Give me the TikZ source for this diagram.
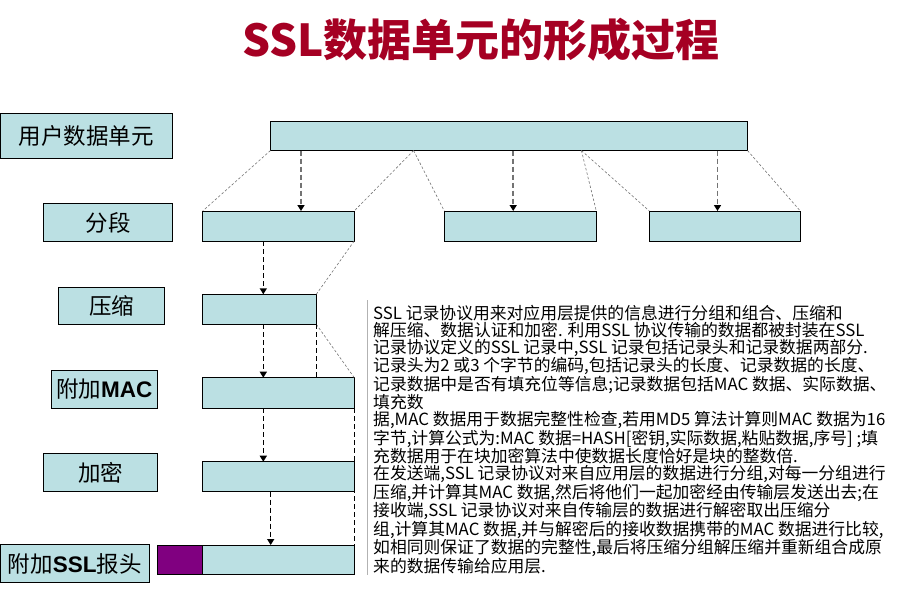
\documentclass[tikz,border=0pt]{standalone}
\usepackage{fontspec}
\setmainfont{Liberation Sans}
\newfontfamily\cjk{Noto Sans CJK SC}
\usetikzlibrary{arrows.meta}
\definecolor{barfill}{RGB}{187,224,227}
\definecolor{hdrfill}{RGB}{128,0,128}
\definecolor{titlered}{RGB}{165,0,35}

\begin{document}
\begin{tikzpicture}[x=1pt, y=-1pt,
    stagebox/.style={draw, fill=barfill, line width=0.9pt, inner sep=0pt, outer sep=0pt,
        anchor=north west, font=\cjk\fontsize{22.5}{26}\selectfont},
    databar/.style={draw, fill=barfill, line width=0.9pt, inner sep=0pt, outer sep=0pt,
        anchor=north west},
    splitline/.style={draw=black!55, line width=0.6pt, dash pattern=on 2.5pt off 2pt},
    grayarrow/.style={draw=black!55, line width=1.8pt, dash pattern=on 5pt off 3pt,
        -{Triangle[length=6pt,width=7pt,color=black]}},
    blackarrow/.style={draw=black, line width=1.4pt, dash pattern=on 5pt off 3pt,
        -{Triangle[length=6pt,width=7pt]}},
    edgeline/.style={draw=black, line width=0.8pt, dash pattern=on 5pt off 3pt}]

    \useasboundingbox (0,0) rectangle (905,597);

    % title
    \node[font=\cjk\bfseries\fontsize{44}{48}\selectfont, text=titlered] (title) at (481,40)
        {SSL数据单元的形成过程};

    % stage names
    \node[stagebox, minimum width=172pt, minimum height=45pt] (userlab) at (0.5,113) {用户数据单元};
    \node[stagebox, minimum width=129pt, minimum height=38pt] (seglab) at (43.5,203.5) {分段};
    \node[stagebox, minimum width=106pt, minimum height=37.5pt] (complab) at (58.5,287) {压缩};
    \node[stagebox, minimum width=106.5pt, minimum height=38pt] (maclab) at (51,370)
        {附加{\rmfamily\bfseries MAC}};
    \node[stagebox, minimum width=114pt, minimum height=38pt] (enclab) at (43.5,453.5) {加密};
    \node[stagebox, minimum width=148.5pt, minimum height=38pt] (hdrlab) at (0.5,544.5)
        {附加{\rmfamily\bfseries SSL}报头};

    % data bars
    \node[databar, minimum width=477pt, minimum height=29.5pt] (user) at (270.5,121) {};
    \node[databar, minimum width=151.5pt, minimum height=30pt] (seg1) at (202.7,211) {};
    \node[databar, minimum width=152pt, minimum height=30pt] (seg2) at (444.3,211) {};
    \node[databar, minimum width=151pt, minimum height=30pt] (seg3) at (649.3,211) {};
    \node[databar, minimum width=114pt, minimum height=30pt] (comp) at (202.3,294.3) {};
    \node[databar, minimum width=152pt, minimum height=30.5pt] (mac) at (202.3,377.7) {};
    \node[databar, minimum width=152pt, minimum height=30pt] (enc) at (202.3,461.7) {};
    \node[databar, minimum width=152pt, minimum height=29.5pt] (rec) at (202.3,545) {};
    \node[databar, fill=hdrfill, minimum width=45pt, minimum height=29.5pt] (hdr) at (157.3,545) {};

    % splitting lines
    \coordinate (cut1) at (413.6,150.5);
    \coordinate (cut2) at (581.4,150.5);
    \draw[splitline] (user.south west) -- (seg1.north west);
    \draw[splitline] (cut1) -- (seg1.north east);
    \draw[splitline] (cut1) -- (seg2.north west);
    \draw[splitline] (cut2) -- (seg2.north east);
    \draw[splitline] (cut2) -- (seg3.north west);
    \draw[splitline] (user.south east) -- (seg3.north east);
    \draw[splitline] (seg1.south east) -- (comp.north east);
    \draw[splitline] (comp.south east) -- (mac.north east);

    % segmenting arrows
    \draw[grayarrow] (user.south -| 301,0) -- (seg1.north -| 301,0);
    \draw[grayarrow] (user.south -| 513.2,0) -- (seg2.north -| 513.2,0);
    \draw[grayarrow] (user.south -| 717.5,0) -- (seg3.north -| 717.5,0);

    % processing arrows
    \draw[blackarrow] (seg1.south -| 263.3,0) -- (comp.north -| 263.3,0);
    \draw[blackarrow] (comp.south -| 263.3,0) -- (mac.north -| 263.3,0);
    \draw[blackarrow] (mac.south -| 263.3,0) -- (enc.north -| 263.3,0);
    \draw[blackarrow] (enc.south -| 270.7,0) -- (rec.north -| 270.7,0);

    % length marks
    \draw[edgeline] (comp.south east) -- (comp.south east |- mac.north);
    \draw[edgeline] (mac.south east) -- (rec.north east);

    % description
    \coordinate (bartop) at (367.7,300);
    \coordinate (barbot) at (367.7,575);
    \draw[black!30, line width=0.8pt] (bartop) -- (barbot);
    \node[anchor=north west, inner sep=0pt, align=left,
        font=\cjk\fontsize{16.8}{17}\selectfont] (desc) at (373,305) {%
        SSL 记录协议用来对应用层提供的信息进行分组和组合、压缩和\\
        解压缩、数据认证和加密. 利用SSL 协议传输的数据都被封装在SSL\\
        记录协议定义的SSL 记录中,SSL 记录包括记录头和记录数据两部分.\\
        记录头为2 或3 个字节的编码,包括记录头的长度、记录数据的长度、\\
        记录数据中是否有填充位等信息;记录数据包括MAC 数据、实际数据、\\
        填充数\\
        据,MAC 数据用于数据完整性检查,若用MD5 算法计算则MAC 数据为16\\
        字节,计算公式为:MAC 数据=HASH[密钥,实际数据,粘贴数据,序号] ;填\\
        充数据用于在块加密算法中使数据长度恰好是块的整数倍.\\
        在发送端,SSL 记录协议对来自应用层的数据进行分组,对每一分组进行\\
        压缩,并计算其MAC 数据,然后将他们一起加密经由传输层发送出去;在\\
        接收端,SSL 记录协议对来自传输层的数据进行解密取出压缩分\\
        组,计算其MAC 数据,并与解密后的接收数据携带的MAC 数据进行比较,\\
        如相同则保证了数据的完整性,最后将压缩分组解压缩并重新组合成原\\
        来的数据传输给应用层.};

\end{tikzpicture}
\end{document}
